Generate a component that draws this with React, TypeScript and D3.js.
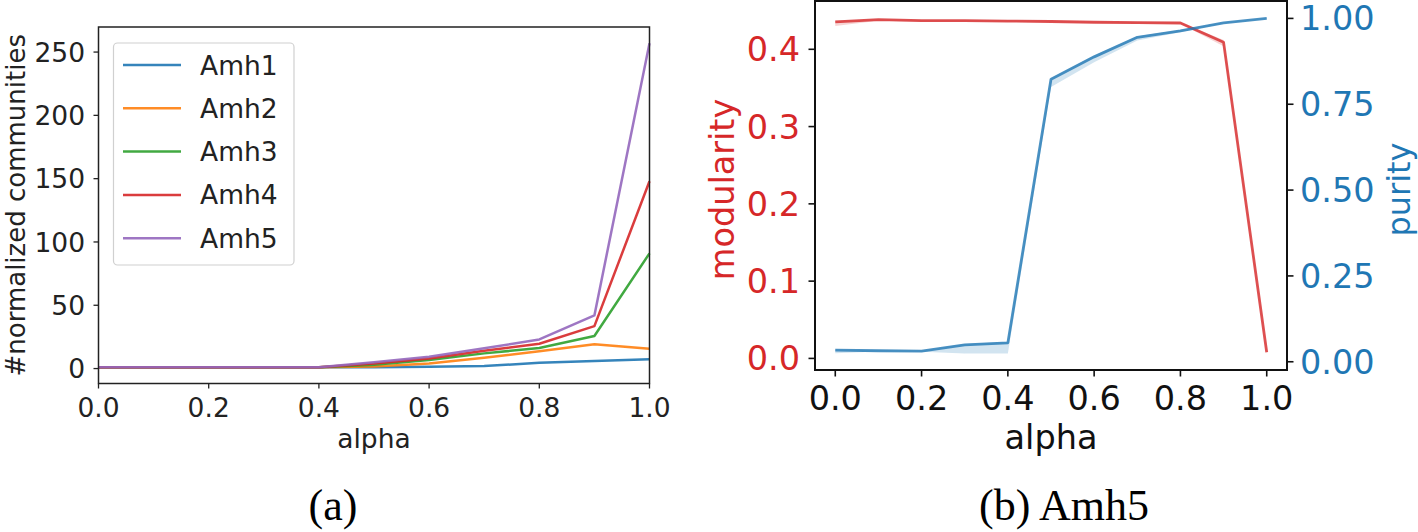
import React from "react";
import * as d3 from "d3";

// ---------- data ----------
const alphas = [0, 0.1, 0.2, 0.3, 0.4, 0.5, 0.6, 0.7, 0.8, 0.9, 1.0];
const seriesNames = ["Amh1", "Amh2", "Amh3", "Amh4", "Amh5"];
const amh1 = [1, 1, 1, 1, 1, 1.1, 1.5, 2, 4.5, 6, 7.3];
const amh2 = [1, 1, 1, 1, 1, 1.6, 4, 8.5, 13.6, 19.2, 15.7];
const amh3 = [1, 1, 1, 1, 1, 3, 6.7, 12, 16.2, 25.7, 91];
const amh4 = [1, 1, 1, 1, 1, 4, 8, 14, 19.6, 33.5, 148];
const amh5 = [1, 1, 1, 1, 1, 5, 9.4, 16, 23, 42, 257];
const leftSeries = [amh1, amh2, amh3, amh4, amh5];
const seriesColors = ["#1f77b4", "#ff7f0e", "#2ca02c", "#d62728", "#9467bd"];
const leftYTicks = [0, 50, 100, 150, 200, 250];
const leftXTicks = [0, 0.2, 0.4, 0.6, 0.8, 1.0];

const modularity = [0.4355, 0.4385, 0.437, 0.437, 0.4365, 0.436, 0.435, 0.4345, 0.434, 0.409, 0.008];
const modularityLow = [0.43, 0.437, 0.436, 0.436, 0.4355, 0.435, 0.434, 0.4335, 0.433, 0.404, 0.006];
const modularityHigh = [0.437, 0.439, 0.438, 0.438, 0.4375, 0.437, 0.436, 0.4355, 0.435, 0.412, 0.01];
const purity = [0.034, 0.032, 0.031, 0.049, 0.055, 0.823, 0.888, 0.945, 0.964, 0.987, 1.0];
const purityLow = [0.025, 0.03, 0.029, 0.024, 0.024, 0.8, 0.872, 0.936, 0.96, 0.985, 0.999];
const purityHigh = [0.036, 0.034, 0.033, 0.052, 0.058, 0.826, 0.892, 0.948, 0.967, 0.989, 1.001];
const modTicks = [0, 0.1, 0.2, 0.3, 0.4];
const purTicks = [0, 0.25, 0.5, 0.75, 1.0];
const rightXTicks = [0, 0.2, 0.4, 0.6, 0.8, 1.0];

const SANS = "DejaVu Sans";
const RED = "#d62728";
const BLUE = "#1f77b4";

export default function App() {
  // ---------- left chart ----------
  const L = { x0: 98.5, x1: 649.5, y0: 27, y1: 383.5 };
  const lx = d3.scaleLinear().domain([0, 1]).range([L.x0, L.x1]);
  const ly = d3.scaleLinear().domain([-11.8, 269.8]).range([L.y1, L.y0]);
  const lLine = d3
    .line<number>()
    .x((_, i) => lx(alphas[i]))
    .y((d) => ly(d));
  const lfs = 26.5;

  // ---------- right chart ----------
  const R = { x0: 815, x1: 1287, y0: 1, y1: 370 };
  const rx = d3.scaleLinear().domain([-0.047, 1.047]).range([R.x0, R.x1]);
  const ryM = d3.scaleLinear().domain([-0.015, 0.4625]).range([R.y1, R.y0]);
  const ryP = d3.scaleLinear().domain([-0.024, 1.0507]).range([R.y1, R.y0]);
  const mLine = d3.line<number>().x((_, i) => rx(alphas[i])).y((d) => ryM(d));
  const pLine = d3.line<number>().x((_, i) => rx(alphas[i])).y((d) => ryP(d));
  const mArea = d3
    .area<number>()
    .x((_, i) => rx(alphas[i]))
    .y0((_, i) => ryM(modularityLow[i]))
    .y1((_, i) => ryM(modularityHigh[i]));
  const pArea = d3
    .area<number>()
    .x((_, i) => rx(alphas[i]))
    .y0((_, i) => ryP(purityLow[i]))
    .y1((_, i) => ryP(purityHigh[i]));
  const rfs = 33.5;

  const legendRows = [65, 108.3, 151.6, 194.9, 238.2];

  return (
    <svg
      width={1418}
      height={532}
      style={{ position: "absolute", left: 0, top: 0, background: "#fff" }}
      fontFamily={SANS}
    >
      <rect x={0} y={0} width={1418} height={532} fill="#fff" />
      {/* ===== left chart ===== */}
      <g>
        {leftSeries.map((s, k) => (
          <path
            key={k}
            d={lLine(s) || ""}
            fill="none"
            stroke={seriesColors[k]}
            strokeWidth={2.5}
            strokeOpacity={0.9}
            strokeLinejoin="round"
          />
        ))}
        <rect
          x={L.x0}
          y={L.y0}
          width={L.x1 - L.x0}
          height={L.y1 - L.y0}
          fill="none"
          stroke="#222"
          strokeWidth={1.5}
        />
        {leftYTicks.map((t) => (
          <g key={t}>
            <line x1={L.x0 - 5} x2={L.x0} y1={ly(t)} y2={ly(t)} stroke="#222" strokeWidth={1.3} />
            <text x={85} y={ly(t)} dy="0.36em" textAnchor="end" fontSize={lfs} fill="#222">
              {t}
            </text>
          </g>
        ))}
        {leftXTicks.map((t) => (
          <g key={t}>
            <line x1={lx(t)} x2={lx(t)} y1={L.y1} y2={L.y1 + 5} stroke="#222" strokeWidth={1.3} />
            <text x={lx(t)} y={416.5} textAnchor="middle" fontSize={lfs} fill="#222">
              {t.toFixed(1)}
            </text>
          </g>
        ))}
        <text x={(L.x0 + L.x1) / 2} y={448} textAnchor="middle" fontSize={lfs} fill="#222">
          alpha
        </text>
        <text
          transform={`translate(25,${(L.y0 + L.y1) / 2}) rotate(-90)`}
          textAnchor="middle"
          fontSize={26}
          fill="#222"
        >
          #normalized communities
        </text>
        {/* legend */}
        <rect
          x={113.5}
          y={43}
          width={180.5}
          height={222}
          rx={4}
          fill="#fff"
          fillOpacity={0.8}
          stroke="#d0d0d0"
          strokeWidth={1.2}
        />
        {seriesNames.map((n, k) => (
          <g key={n}>
            <line
              x1={123}
              x2={181}
              y1={legendRows[k]}
              y2={legendRows[k]}
              stroke={seriesColors[k]}
              strokeWidth={2.5}
              strokeOpacity={0.9}
            />
            <text x={200} y={legendRows[k]} dy="0.36em" fontSize={lfs} fill="#222">
              {n}
            </text>
          </g>
        ))}
      </g>

      {/* ===== right chart ===== */}
      <g>
        <path d={mArea(modularity) || ""} fill={RED} fillOpacity={0.2} stroke="none" />
        <path d={pArea(purity) || ""} fill={BLUE} fillOpacity={0.2} stroke="none" />
        <path
          d={mLine(modularity) || ""}
          fill="none"
          stroke={RED}
          strokeOpacity={0.8}
          strokeWidth={2.8}
          strokeLinejoin="round"
        />
        <path
          d={pLine(purity) || ""}
          fill="none"
          stroke={BLUE}
          strokeOpacity={0.8}
          strokeWidth={2.8}
          strokeLinejoin="round"
        />
        <rect
          x={R.x0}
          y={R.y0}
          width={R.x1 - R.x0}
          height={R.y1 - R.y0}
          fill="none"
          stroke="#111"
          strokeWidth={2}
        />
        {modTicks.map((t) => (
          <g key={"m" + t}>
            <line x1={R.x0 - 6.5} x2={R.x0} y1={ryM(t)} y2={ryM(t)} stroke="#111" strokeWidth={1.6} />
            <text x={800} y={ryM(t)} dy="0.36em" textAnchor="end" fontSize={rfs} fill={RED}>
              {t.toFixed(1)}
            </text>
          </g>
        ))}
        {purTicks.map((t) => (
          <g key={"p" + t}>
            <line x1={R.x1} x2={R.x1 + 6.5} y1={ryP(t)} y2={ryP(t)} stroke="#111" strokeWidth={1.6} />
            <text x={1300} y={ryP(t)} dy="0.36em" textAnchor="start" fontSize={rfs} fill={BLUE}>
              {t.toFixed(2)}
            </text>
          </g>
        ))}
        {rightXTicks.map((t) => (
          <g key={"x" + t}>
            <line x1={rx(t)} x2={rx(t)} y1={R.y1} y2={R.y1 + 6.5} stroke="#111" strokeWidth={1.6} />
            <text x={rx(t)} y={409.5} textAnchor="middle" fontSize={rfs} fill="#111">
              {t.toFixed(1)}
            </text>
          </g>
        ))}
        <text x={(R.x0 + R.x1) / 2} y={448.5} textAnchor="middle" fontSize={rfs} fill="#111">
          alpha
        </text>
        <text
          transform={`translate(733.5,${(R.y0 + R.y1) / 2 + 4}) rotate(-90)`}
          textAnchor="middle"
          fontSize={rfs}
          fill={RED}
        >
          modularity
        </text>
        <text
          transform={`translate(1410,${(R.y0 + R.y1) / 2 + 4}) rotate(-90)`}
          textAnchor="middle"
          fontSize={32}
          fill={BLUE}
        >
          purity
        </text>
      </g>

      {/* captions */}
      <text x={333} y={520} textAnchor="middle" fontFamily="Liberation Serif" fontSize={44} fill="#000">
        (a)
      </text>
      <text x={1064} y={520} textAnchor="middle" fontFamily="Liberation Serif" fontSize={44} fill="#000">
        (b) Amh5
      </text>
    </svg>
  );
}
